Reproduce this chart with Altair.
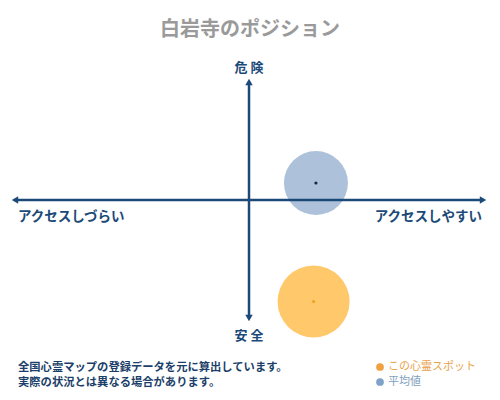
import altair as alt
import pandas as pd

FONT = "Noto Sans CJK JP"

title_text = "白岩寺のポジション"
series_names = ["この心霊スポット", "平均値"]
access_values = [27.6, 28.6]      # x: アクセスしづらい(-) ... アクセスしやすい(+)
danger_values = [-86.0, 14.4]     # y: 安全(-) ... 危険(+)
spread_values = [5184, 4096]      # bubble size
fill_colors = ["#ffc86b", "#adc1da"]
dot_colors = ["#f0a020", "#1a2a3a"]
text_colors = ["#e8a24a", "#7f9fbf"]
notes = ["全国心霊マップの登録データを元に算出しています。", "実際の状況とは異なる場合があります。"]
axis_top, axis_bottom = "危 険", "安 全"
axis_left, axis_right = "アクセスしづらい", "アクセスしやすい"

NAVY = "#1c4a78"

xs = alt.Scale(domain=[-100, 100], range=[7, 475])
ys = alt.Scale(domain=[-100, 100], range=[310, 74])

pts = pd.DataFrame({
    "name": series_names,
    "x": access_values,
    "y": danger_values,
    "size": spread_values,
    "fill": fill_colors,
    "dot": dot_colors,
})
pts = pts.iloc[::-1].reset_index(drop=True)

bubbles = alt.Chart(pts).mark_circle(opacity=1).encode(
    x=alt.X("x:Q", scale=xs, axis=None),
    y=alt.Y("y:Q", scale=ys, axis=None),
    size=alt.Size("size:Q", scale=None, legend=None),
    color=alt.Color("fill:N", scale=None, legend=None),
)

dots = alt.Chart(pts).mark_circle(opacity=1, size=10).encode(
    x=alt.X("x:Q", scale=xs, axis=None),
    y=alt.Y("y:Q", scale=ys, axis=None),
    color=alt.Color("dot:N", scale=None, legend=None),
)

hline = alt.Chart(pd.DataFrame({"x": [-100], "x2": [100], "y": [0]})).mark_rule(
    color=NAVY, strokeWidth=2.5
).encode(
    x=alt.X("x:Q", scale=xs, axis=None), x2="x2:Q",
    y=alt.Y("y:Q", scale=ys, axis=None),
)
vline = alt.Chart(pd.DataFrame({"x": [0], "y": [-100], "y2": [100]})).mark_rule(
    color=NAVY, strokeWidth=2.5
).encode(
    x=alt.X("x:Q", scale=xs, axis=None),
    y=alt.Y("y:Q", scale=ys, axis=None), y2="y2:Q",
)

arrows_df = pd.DataFrame({
    "x": [-100, 100, 0, 0],
    "y": [0, 0, 100, -100],
    "shape": ["triangle-left", "triangle-right", "triangle-up", "triangle-down"],
})
arrows = alt.Chart(arrows_df).mark_point(filled=True, color=NAVY, opacity=1, size=55).encode(
    x=alt.X("x:Q", scale=xs, axis=None),
    y=alt.Y("y:Q", scale=ys, axis=None),
    shape=alt.Shape("shape:N", scale=None, legend=None),
)

def axis_text(label, x, y, align, dx, dy, size=13):
    return alt.Chart(pd.DataFrame({"t": [label], "x": [x], "y": [y]})).mark_text(
        font=FONT, fontSize=size, fontWeight="bold", color=NAVY,
        align=align, baseline="middle", dx=dx, dy=dy,
    ).encode(
        x=alt.X("x:Q", scale=xs, axis=None),
        y=alt.Y("y:Q", scale=ys, axis=None),
        text="t:N",
    )

lab_top = axis_text(axis_top, 0, 100, "center", 0, -14)
lab_bottom = axis_text(axis_bottom, 0, -100, "center", 0, 18)
lab_left = axis_text(axis_left, -100, 0, "left", 3, 17, 13.5)
lab_right = axis_text(axis_right, 100, 0, "right", -1, 17, 13.5)

title = alt.Chart(pd.DataFrame({"t": [title_text]})).mark_text(
    font=FONT, fontSize=20, fontWeight="bold", color="#9a9a9a", align="center", baseline="middle"
).encode(x=alt.value(242), y=alt.value(22), text="t:N")

note1 = alt.Chart(pd.DataFrame({"t": [notes[0]]})).mark_text(
    font=FONT, fontSize=11.3, fontWeight="bold", color="#1c3f6a", align="left", baseline="middle"
).encode(x=alt.value(10), y=alt.value(360), text="t:N")
note2 = alt.Chart(pd.DataFrame({"t": [notes[1]]})).mark_text(
    font=FONT, fontSize=11.3, fontWeight="bold", color="#1c3f6a", align="left", baseline="middle"
).encode(x=alt.value(10), y=alt.value(375), text="t:N")

leg_dot1 = alt.Chart(pd.DataFrame({"c": [fill_colors[0]]})).mark_circle(
    opacity=1, size=60, color="#f0a040"
).encode(x=alt.value(372), y=alt.value(359))
leg_dot2 = alt.Chart(pd.DataFrame({"c": [fill_colors[1]]})).mark_circle(
    opacity=1, size=60, color="#7fa3c8"
).encode(x=alt.value(372), y=alt.value(374))
leg_t1 = alt.Chart(pd.DataFrame({"t": [series_names[0]]})).mark_text(
    font=FONT, fontSize=11, color=text_colors[0], align="left", baseline="middle"
).encode(x=alt.value(380), y=alt.value(359), text="t:N")
leg_t2 = alt.Chart(pd.DataFrame({"t": [series_names[1]]})).mark_text(
    font=FONT, fontSize=11, color=text_colors[1], align="left", baseline="middle"
).encode(x=alt.value(380), y=alt.value(374), text="t:N")

chart = alt.layer(
    bubbles, hline, vline, arrows, dots,
    lab_top, lab_bottom, lab_left, lab_right,
    title, note1, note2, leg_dot1, leg_dot2, leg_t1, leg_t2,
).properties(
    width=484, height=384, autosize=alt.AutoSizeParams(type="none"), padding=0,
    background="white",
).configure_view(stroke=None, strokeWidth=0)

chart.save("out.html", embed_options={"renderer": "svg", "actions": False})
